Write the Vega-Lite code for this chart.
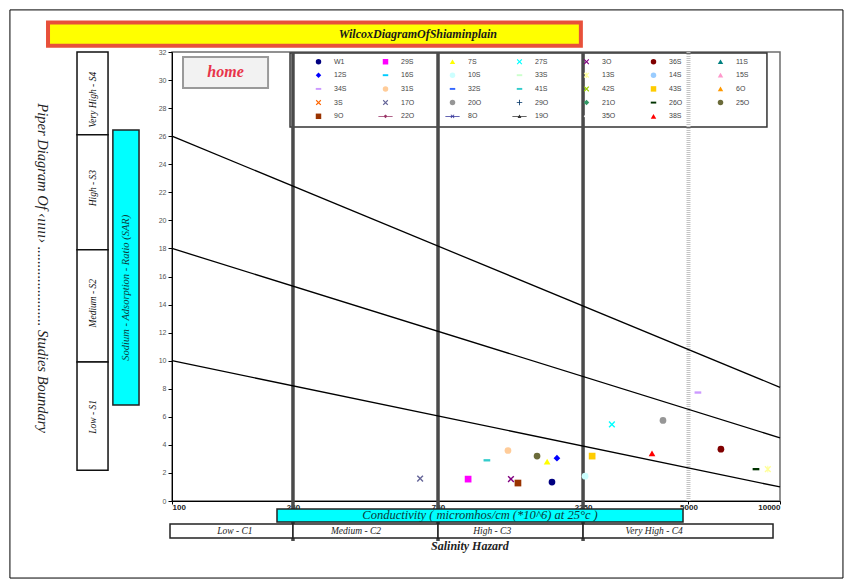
{
  "$schema": "https://vega.github.io/schema/vega-lite/v6.json",
  "width": 608,
  "height": 449,
  "autosize": {"type": "none"},
  "padding": {"left": 172, "top": 52, "right": 74, "bottom": 84},
  "background": "white",
  "config": {
    "view": {"stroke": "#6e6e6e", "strokeWidth": 1.5},
    "axisX": {"labelFont": "Liberation Sans", "labelFontWeight": "bold", "labelFontSize": 8, "labelColor": "#222", "tickColor": "#000", "domainColor": "#000", "tickSize": 3, "labelPadding": -1, "grid": false, "title": null},
    "axisY": {"labelFont": "Liberation Sans", "labelFontSize": 7, "labelColor": "#555", "tickColor": "#000", "domainColor": "#000", "tickSize": 4, "grid": false, "title": null}
  },
  "encoding": {
    "x": {"field": "ec", "type": "quantitative", "scale": {"type": "log", "domain": [100, 10000], "nice": false, "clamp": false}, "axis": {"values": [100, 250, 750, 2250, 5000, 10000], "format": "d", "title": null}},
    "y": {"field": "sar", "type": "quantitative", "scale": {"domain": [0, 32], "nice": false, "zero": false, "clamp": false}, "axis": {"values": [0, 2, 4, 6, 8, 10, 12, 14, 16, 18, 20, 22, 24, 26, 28, 30, 32], "title": null}}
  },
  "layer": [
    {
      "data": {"values": [{"ec": 29.3, "ec2": 16110, "sar": 35.0, "sar2": -5.49}]},
      "mark": {"type": "rect", "fillOpacity": 0, "stroke": "#000", "strokeWidth": 1},
      "encoding": {"x2": {"field": "ec2"}, "y2": {"field": "sar2"}}
    },
    {
      "data": {"values": [{"ec": 39.1, "ec2": 2213, "sar": 34.1, "sar2": 32.45}]},
      "mark": {"type": "rect", "fill": "#ffff00", "stroke": "#e8503a", "strokeWidth": 4},
      "encoding": {"x2": {"field": "ec2"}, "y2": {"field": "sar2"}}
    },
    {
      "data": {"values": [{"ec": 644, "sar": 33.28, "label": "WilcoxDiagramOfShiaminplain"}]},
      "mark": {"type": "text", "font": "Liberation Serif", "fontStyle": "italic", "fontWeight": "bold", "fontSize": 12, "color": "#1a1a1a", "baseline": "middle"},
      "encoding": {"text": {"field": "label"}}
    },
    {
      "data": {"values": [
        {"ec": 48.7, "ec2": 61.6, "sar": 32.0, "sar2": 26.1},
        {"ec": 48.7, "ec2": 61.6, "sar": 26.1, "sar2": 17.9},
        {"ec": 48.7, "ec2": 61.6, "sar": 17.9, "sar2": 9.9},
        {"ec": 48.7, "ec2": 61.6, "sar": 9.9, "sar2": 2.2}
      ]},
      "mark": {"type": "rect", "fill": "white", "stroke": "#111", "strokeWidth": 1.5},
      "encoding": {"x2": {"field": "ec2"}, "y2": {"field": "sar2"}}
    },
    {
      "data": {"values": [
        {"ec": 54.8, "sar": 28.6, "label": "Very High - S4"},
        {"ec": 54.8, "sar": 22.3, "label": "High - S3"},
        {"ec": 54.8, "sar": 14.1, "label": "Medium - S2"},
        {"ec": 54.8, "sar": 6.0, "label": "Low - S1"}
      ]},
      "mark": {"type": "text", "angle": 270, "font": "Liberation Serif", "fontStyle": "italic", "fontSize": 9.5, "color": "#111", "baseline": "middle", "align": "center"},
      "encoding": {"text": {"field": "label"}}
    },
    {
      "data": {"values": [{"ec": 63.9, "ec2": 77.9, "sar": 26.44, "sar2": 6.84}]},
      "mark": {"type": "rect", "fill": "#00ffff", "stroke": "#222", "strokeWidth": 1.5},
      "encoding": {"x2": {"field": "ec2"}, "y2": {"field": "sar2"}}
    },
    {
      "data": {"values": [{"ec": 70.6, "sar": 15.2, "label": "Sodium - Adsorption - Ratio (SAR)"}]},
      "mark": {"type": "text", "angle": 270, "font": "Liberation Serif", "fontStyle": "italic", "fontSize": 10.5, "color": "#0b3b3b", "baseline": "middle", "align": "center"},
      "encoding": {"text": {"field": "label"}}
    },
    {
      "data": {"values": [{"ec": 37.3, "sar": 16.6, "label": "Piper Diagram Of  ‹ııııı›  ......................   Studies Boundary"}]},
      "mark": {"type": "text", "angle": 90, "font": "Liberation Serif", "fontStyle": "italic", "fontSize": 14.5, "color": "#222", "baseline": "middle", "align": "center"},
      "encoding": {"text": {"field": "label"}}
    },
    {
      "data": {"values": [{"ec": 244.5, "ec2": 9059, "sar": 31.93, "sar2": 26.66}]},
      "mark": {"type": "rect", "fillOpacity": 0, "stroke": "#333", "strokeWidth": 1.5},
      "encoding": {"x2": {"field": "ec2"}, "y2": {"field": "sar2"}}
    },
    {
      "data": {"values": [{"ec": 108.7, "ec2": 207, "sar": 31.65, "sar2": 29.44}]},
      "mark": {"type": "rect", "fill": "#f2f2f2", "stroke": "#9a9a9a", "strokeWidth": 2},
      "encoding": {"x2": {"field": "ec2"}, "y2": {"field": "sar2"}}
    },
    {
      "data": {"values": [{"ec": 150, "sar": 30.55, "label": "home"}]},
      "mark": {"type": "text", "font": "Liberation Serif", "fontStyle": "italic", "fontWeight": "bold", "fontSize": 16, "color": "#e8344a", "baseline": "middle"},
      "encoding": {"text": {"field": "label"}}
    },
    {
      "data": {"values": [{"ec": 5000, "sar": 0, "sar2": 32}]},
      "mark": {"type": "rule", "color": "#c4c4c4", "strokeWidth": 4, "strokeDash": [1, 1]},
      "encoding": {"y2": {"field": "sar2"}}
    },
    {
      "data": {"values": [
        {"ec": 250, "sar": -2.85, "sar2": 32},
        {"ec": 750, "sar": -2.85, "sar2": 32},
        {"ec": 2250, "sar": -2.85, "sar2": 32}
      ]},
      "mark": {"type": "rule", "color": "#4a4a4a", "strokeWidth": 3.5},
      "encoding": {"y2": {"field": "sar2"}}
    },
    {
      "data": {"values": [
        {"g": "S1", "ec": 100, "sar": 10}, {"g": "S1", "ec": 10000, "sar": 1.0},
        {"g": "S2", "ec": 100, "sar": 18}, {"g": "S2", "ec": 10000, "sar": 4.5},
        {"g": "S3", "ec": 100, "sar": 26}, {"g": "S3", "ec": 10000, "sar": 8.1}
      ]},
      "mark": {"type": "line", "color": "#000", "strokeWidth": 1.3},
      "encoding": {"detail": {"field": "g"}}
    },
    {
      "data": {"values": [
        {"well": "W1", "ec": 1778, "sar": 1.35},
        {"well": "29S", "ec": 942, "sar": 1.56},
        {"well": "7S", "ec": 1714, "sar": 2.8},
        {"well": "27S", "ec": 2799, "sar": 5.46},
        {"well": "3O", "ec": 1303, "sar": 1.56},
        {"well": "36S", "ec": 6392, "sar": 3.69},
        {"well": "12S", "ec": 1846, "sar": 3.05},
        {"well": "10S", "ec": 2285, "sar": 1.77},
        {"well": "13S", "ec": 9120, "sar": 2.27},
        {"well": "34S", "ec": 5370, "sar": 7.73},
        {"well": "31S", "ec": 1274, "sar": 3.6},
        {"well": "41S", "ec": 1086, "sar": 2.9},
        {"well": "43S", "ec": 2410, "sar": 3.2},
        {"well": "17O", "ec": 655, "sar": 1.6},
        {"well": "20O", "ec": 4122, "sar": 5.74},
        {"well": "26O", "ec": 8337, "sar": 2.27},
        {"well": "25O", "ec": 1588, "sar": 3.2},
        {"well": "9O", "ec": 1374, "sar": 1.28},
        {"well": "38S", "ec": 3793, "sar": 3.4}
      ]},
      "mark": {"type": "point", "filled": true, "size": 45, "opacity": 1},
      "encoding": {
        "color": {
          "field": "well", "type": "nominal",
          "scale": {
            "domain": ["W1","29S","7S","27S","3O","36S","11S","12S","16S","10S","33S","13S","14S","15S","34S","31S","32S","41S","42S","43S","6O","3S","17O","20O","29O","21O","26O","25O","9O","22O","8O","19O","35O","38S"],
            "range": ["#000080","#FF00FF","#FFFF00","#00FFFF","#800080","#800000","#008080","#0000FF","#00CCFF","#CCFFFF","#CCFFCC","#FFFF99","#99CCFF","#FF99CC","#CC99FF","#FFCC99","#3366FF","#33CCCC","#99CC00","#FFCC00","#FF9900","#FF6600","#666699","#969696","#003366","#339966","#003300","#6B6B3A","#993300","#993366","#333399","#333333","#FFFFFF","#FF0000"]
          },
          "legend": {"orient": "none", "legendX": 143, "legendY": 6, "direction": "horizontal", "columns": 7, "title": null, "symbolLimit": 0, "symbolSize": 30, "symbolStrokeWidth": 0, "labelFont": "Liberation Sans", "labelFontSize": 7, "labelColor": "#444", "labelOffset": 12, "columnPadding": 30, "rowPadding": 5.7, "gridAlign": "all", "padding": 0}
        },
        "shape": {
          "field": "well", "type": "nominal",
          "scale": {
            "domain": ["W1","29S","7S","27S","3O","36S","11S","12S","16S","10S","33S","13S","14S","15S","34S","31S","32S","41S","42S","43S","6O","3S","17O","20O","29O","21O","26O","25O","9O","22O","8O","19O","35O","38S"],
            "range": ["circle","square","triangle-up",
              "M-1,-0.7L-0.7,-1L0,-0.3L0.7,-1L1,-0.7L0.3,0L1,0.7L0.7,1L0,0.3L-0.7,1L-1,0.7L-0.3,0Z",
              "M-1,-0.7L-0.7,-1L0,-0.3L0.7,-1L1,-0.7L0.3,0L1,0.7L0.7,1L0,0.3L-0.7,1L-1,0.7L-0.3,0Z",
              "circle","triangle-up","diamond",
              "M-1,-0.35H1V0.35H-1Z",
              "circle",
              "M-1,-0.35H1V0.35H-1Z",
              "M-1,-0.7L-0.7,-1L0,-0.3L0.7,-1L1,-0.7L0.3,0L1,0.7L0.7,1L0,0.3L-0.7,1L-1,0.7L-0.3,0ZM-0.15,-1H0.15V1H-0.15Z",
              "circle","triangle-up",
              "M-1,-0.35H1V0.35H-1Z",
              "circle",
              "M-1,-0.35H1V0.35H-1Z",
              "M-1,-0.35H1V0.35H-1Z",
              "M-1,-0.7L-0.7,-1L0,-0.3L0.7,-1L1,-0.7L0.3,0L1,0.7L0.7,1L0,0.3L-0.7,1L-1,0.7L-0.3,0Z",
              "square","triangle-up",
              "M-1,-0.7L-0.7,-1L0,-0.3L0.7,-1L1,-0.7L0.3,0L1,0.7L0.7,1L0,0.3L-0.7,1L-1,0.7L-0.3,0Z",
              "M-1,-0.7L-0.7,-1L0,-0.3L0.7,-1L1,-0.7L0.3,0L1,0.7L0.7,1L0,0.3L-0.7,1L-1,0.7L-0.3,0Z",
              "circle",
              "M-1,-0.15H1V0.15H-1ZM-0.15,-1H0.15V1H-0.15Z",
              "diamond",
              "M-1,-0.35H1V0.35H-1Z",
              "circle","square",
              "M-2.6,-0.12H2.6V0.12H-2.6ZM-0.7,0L0,-0.7L0.7,0L0,0.7Z",
              "M-2.6,-0.12H2.6V0.12H-2.6ZM-0.7,-0.5L-0.5,-0.7L0,-0.2L0.5,-0.7L0.7,-0.5L0.2,0L0.7,0.5L0.5,0.7L0,0.2L-0.5,0.7L-0.7,0.5L-0.2,0Z",
              "M-2.6,-0.12H2.6V0.12H-2.6ZM-0.7,0.6L0,-0.7L0.7,0.6Z",
              "diamond","triangle-up"]
          },
          "legend": {"orient": "none", "legendX": 143, "legendY": 6, "direction": "horizontal", "columns": 7, "title": null, "symbolLimit": 0, "symbolSize": 30, "symbolStrokeWidth": 0, "labelFont": "Liberation Sans", "labelFontSize": 7, "labelColor": "#444", "labelOffset": 12, "columnPadding": 30, "rowPadding": 5.7, "gridAlign": "all", "padding": 0}
        }
      }
    },
    {
      "data": {"values": [{"ec": 221.5, "ec2": 4797, "sar": -0.57, "sar2": -1.5}]},
      "mark": {"type": "rect", "fill": "#00ffff", "stroke": "#222", "strokeWidth": 1.5},
      "encoding": {"x2": {"field": "ec2"}, "y2": {"field": "sar2"}}
    },
    {
      "data": {"values": [{"ec": 1031, "sar": -1.03, "label": "Conductivity ( micromhos/cm (*10^6) at 25°c )"}]},
      "mark": {"type": "text", "font": "Liberation Serif", "fontStyle": "italic", "fontSize": 12.5, "color": "#0b3b3b", "baseline": "middle"},
      "encoding": {"text": {"field": "label"}}
    },
    {
      "data": {"values": [
        {"ec": 98.5, "ec2": 250, "sar": -1.64, "sar2": -2.64},
        {"ec": 250, "ec2": 750, "sar": -1.64, "sar2": -2.64},
        {"ec": 750, "ec2": 2250, "sar": -1.64, "sar2": -2.64},
        {"ec": 2250, "ec2": 9485, "sar": -1.64, "sar2": -2.64}
      ]},
      "mark": {"type": "rect", "fill": "white", "stroke": "#222", "strokeWidth": 1.5},
      "encoding": {"x2": {"field": "ec2"}, "y2": {"field": "sar2"}}
    },
    {
      "data": {"values": [
        {"ec": 161, "sar": -2.14, "label": "Low - C1"},
        {"ec": 403, "sar": -2.14, "label": "Medium - C2"},
        {"ec": 1130, "sar": -2.14, "label": "High - C3"},
        {"ec": 3855, "sar": -2.14, "label": "Very High - C4"}
      ]},
      "mark": {"type": "text", "font": "Liberation Serif", "fontStyle": "italic", "fontSize": 9.5, "color": "#222", "baseline": "middle"},
      "encoding": {"text": {"field": "label"}}
    },
    {
      "data": {"values": [{"ec": 955, "sar": -3.21, "label": "Salinity  Hazard"}]},
      "mark": {"type": "text", "font": "Liberation Serif", "fontStyle": "italic", "fontWeight": "bold", "fontSize": 12, "color": "#222", "baseline": "middle"},
      "encoding": {"text": {"field": "label"}}
    }
  ]
}
